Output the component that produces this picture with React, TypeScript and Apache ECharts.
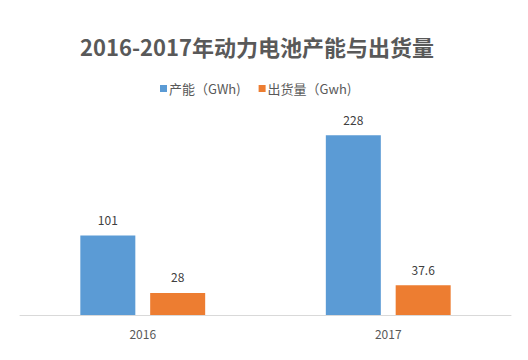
import React, { useEffect, useRef } from "react";
import * as echarts from "echarts";

const titleText = "2016-2017年动力电池产能与出货量";
const categories = ["2016", "2017"];
const seriesNames = ["产能（GWh)", "出货量（Gwh)"];
const capacity = [101, 228];
const shipments = [28, 37.6];
const colors = ["#5B9BD5", "#ED7D31"];

const FONT = "'Noto Sans CJK SC', 'Noto Sans', sans-serif";

export default function App() {
  const ref = useRef<HTMLDivElement>(null);
  useEffect(() => {
    if (!ref.current) return;
    const chart = echarts.init(ref.current, null, { renderer: "svg" });
    chart.setOption({
      animation: false,
      backgroundColor: "#ffffff",
      textStyle: { fontFamily: FONT },
      title: {
        text: titleText,
        left: 252,
        textAlign: "center",
        top: 30,
        textStyle: { fontSize: 22, fontWeight: "bold", color: "#595959", fontFamily: FONT },
      },
      legend: {
        data: seriesNames,
        left: 155,
        top: 77,
        itemWidth: 7,
        itemHeight: 7,
        itemGap: 18,
        icon: "rect",
        textStyle: { fontSize: 13, color: "#595959", fontFamily: FONT, padding: [0, 0, 0, -3] },
      },
      grid: { left: 20, right: 17, top: 118, bottom: 45, containLabel: false },
      xAxis: {
        type: "category",
        data: categories,
        axisLine: { lineStyle: { color: "#D9D9D9" } },
        axisTick: { show: false },
        axisLabel: { color: "#595959", fontSize: 12, margin: 12, fontFamily: FONT },
      },
      yAxis: {
        type: "value",
        min: 0,
        max: 250,
        show: false,
        splitLine: { show: false },
      },
      series: [
        {
          name: seriesNames[0],
          type: "bar",
          data: capacity,
          barWidth: 55,
          barGap: "27%",
          itemStyle: { color: colors[0] },
          label: { show: true, position: "top", distance: 10, color: "#404040", fontSize: 12, fontFamily: FONT },
        },
        {
          name: seriesNames[1],
          type: "bar",
          data: shipments,
          barWidth: 55,
          barGap: "27%",
          itemStyle: { color: colors[1] },
          label: { show: true, position: "top", distance: 10, color: "#404040", fontSize: 12, fontFamily: FONT },
        },
      ],
    });
    return () => chart.dispose();
  }, []);
  return (
    <div
      ref={ref}
      style={{ position: "absolute", left: 0, top: 0, width: 528, height: 360 }}
    />
  );
}
